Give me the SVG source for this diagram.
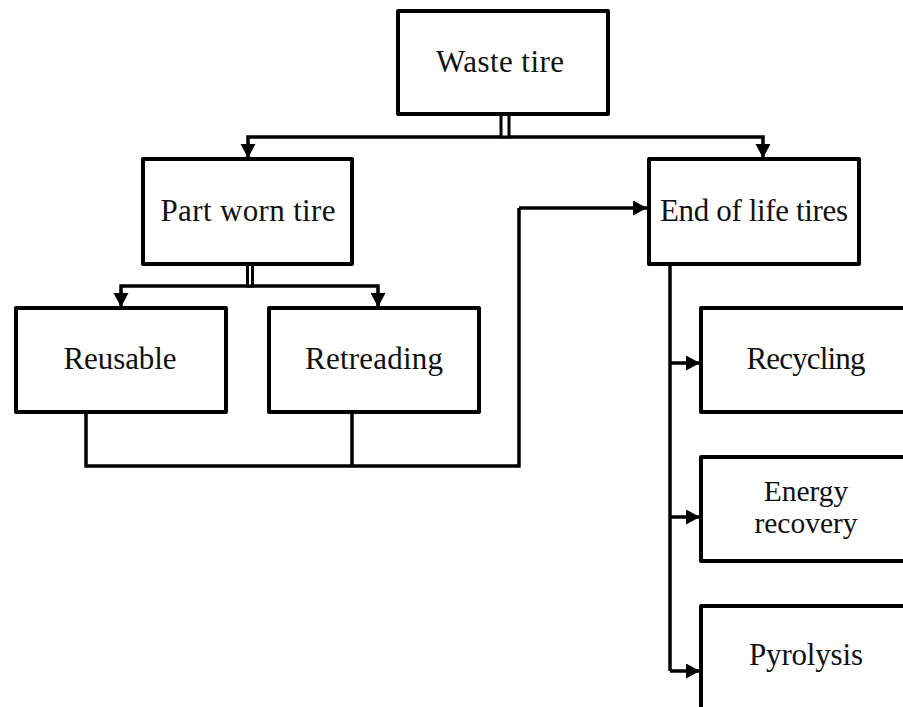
<svg xmlns="http://www.w3.org/2000/svg" width="903" height="707" viewBox="0 0 903 707">
<style>
.box{fill:#fff;stroke:#000;stroke-width:4;stroke-linejoin:round}
.lbl{font-family:"Liberation Serif","Times New Roman",serif;font-size:31px;fill:#111;text-anchor:middle}
.sm{font-size:29.5px}
.con{fill:none;stroke:#000;stroke-width:3.5;stroke-linejoin:miter}
.arr{marker-end:url(#ah)}
</style>
<defs>
<marker id="ah" markerUnits="userSpaceOnUse" markerWidth="16" markerHeight="16" refX="14" refY="7.5" orient="auto" viewBox="0 0 16 16">
<path d="M0,0 L14,7.5 L0,15 Z" fill="#000"/>
</marker>
</defs>
<g id="connectors">
<path class="con arr" d="M505,137 H248 V158"/>
<path class="con arr" d="M505,137 H763 V158"/>
<rect x="501" y="114" width="8" height="23" fill="#fff" stroke="#000" stroke-width="3"/>
<path class="con arr" d="M250,286 H121 V307"/>
<path class="con arr" d="M250,286 H378 V307"/>
<rect x="247.5" y="264" width="5" height="22" fill="#fff" stroke="#000" stroke-width="3"/>
<path class="con" d="M86,412 V466 H519 V208"/>
<path class="con arr" d="M519,208 H647"/>
<path class="con" d="M352,412 V466"/>
<path class="con" d="M670,264 V671"/>
<path class="con arr" d="M670,363 H700"/>
<path class="con arr" d="M670,517 H700"/>
<path class="con arr" d="M670,671 H700"/>
</g>
<g id="waste-tire">
<rect class="box" x="398" y="11" width="210" height="103"/>
<text class="lbl" x="500" y="72" textLength="128">Waste tire</text>
</g>
<g id="part-worn-tire">
<rect class="box" x="143" y="159" width="209" height="105"/>
<text class="lbl" x="248" y="221" textLength="175">Part worn tire</text>
</g>
<g id="reusable">
<rect class="box" x="16" y="308" width="210" height="104"/>
<text class="lbl" x="120" y="369" textLength="113">Reusable</text>
</g>
<g id="retreading">
<rect class="box" x="269" y="308" width="210" height="104"/>
<text class="lbl" x="374" y="369" textLength="138">Retreading</text>
</g>
<g id="end-of-life-tires">
<rect class="box" x="649" y="159" width="210" height="105"/>
<text class="lbl" x="754" y="221" textLength="188">End of life tires</text>
</g>
<g id="recycling">
<rect class="box" x="701" y="308" width="215" height="104"/>
<text class="lbl" x="806" y="369" textLength="119">Recycling</text>
</g>
<g id="energy-recovery">
<rect class="box" x="701" y="457" width="215" height="104"/>
<text class="lbl sm" x="806" y="501">Energy</text>
<text class="lbl sm" x="806" y="533">recovery</text>
</g>
<g id="pyrolysis">
<rect class="box" x="701" y="606" width="215" height="120"/>
<text class="lbl" x="806" y="665" textLength="114">Pyrolysis</text>
</g>
</svg>
